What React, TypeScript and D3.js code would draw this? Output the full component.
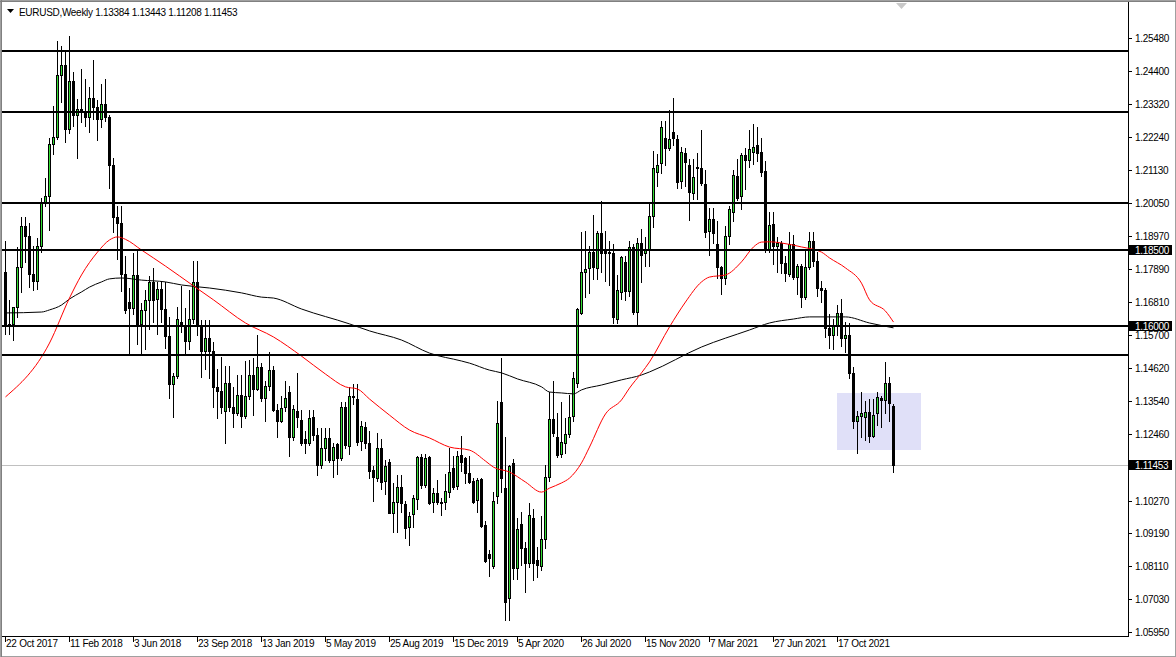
import React from 'react';
import * as d3 from 'd3';

type Candle = [number, number, number, number]; // open, high, low, close

// weekly bars, first one is the week of 22 Oct 2017
const weeks2017: Candle[] = [
  [1.178, 1.188, 1.1574, 1.1605], [1.1605, 1.1688, 1.1574, 1.1608], [1.1608, 1.166, 1.1554, 1.1664],
  [1.1664, 1.1861, 1.163, 1.1795], [1.1795, 1.1961, 1.1713, 1.1931], [1.1931, 1.1961, 1.1811, 1.1896],
  [1.1896, 1.194, 1.173, 1.1772], [1.1772, 1.1863, 1.1718, 1.175], [1.175, 1.189, 1.1723, 1.1865],
  [1.1865, 1.2023, 1.1845, 1.2005],
];
const weeks2018: Candle[] = [
  [1.2005, 1.2089, 1.1995, 1.203], [1.203, 1.2218, 1.1916, 1.22], [1.22, 1.2323, 1.2165, 1.2222],
  [1.2222, 1.2537, 1.2215, 1.2427], [1.2427, 1.2522, 1.2336, 1.2459], [1.2459, 1.2507, 1.2206, 1.225],
  [1.225, 1.2556, 1.2235, 1.2407], [1.2407, 1.2437, 1.226, 1.2295], [1.2295, 1.2346, 1.2154, 1.2315],
  [1.2315, 1.2446, 1.2273, 1.2306], [1.2306, 1.2413, 1.2258, 1.2287], [1.2287, 1.2388, 1.224, 1.2352],
  [1.2352, 1.2476, 1.2282, 1.2322], [1.2322, 1.2345, 1.2214, 1.2282], [1.2282, 1.2396, 1.2254, 1.233],
  [1.233, 1.2414, 1.2276, 1.2287], [1.2287, 1.2296, 1.2055, 1.213], [1.213, 1.2155, 1.191, 1.196],
  [1.196, 1.1996, 1.1822, 1.194], [1.194, 1.1996, 1.1716, 1.1772], [1.1772, 1.183, 1.1645, 1.1655],
  [1.168, 1.1726, 1.151, 1.166], [1.166, 1.184, 1.164, 1.177], [1.177, 1.1852, 1.1541, 1.1608],
  [1.1608, 1.1676, 1.1508, 1.1655], [1.1655, 1.172, 1.1527, 1.1685], [1.1685, 1.1764, 1.159, 1.1745],
  [1.1745, 1.1791, 1.1613, 1.1686], [1.169, 1.1745, 1.1575, 1.1722], [1.1722, 1.175, 1.1614, 1.1656],
  [1.1656, 1.1745, 1.153, 1.1567], [1.1567, 1.163, 1.1365, 1.1411], [1.1411, 1.1445, 1.1301, 1.1436],
  [1.1436, 1.1665, 1.143, 1.1623], [1.1615, 1.1733, 1.158, 1.16], [1.16, 1.166, 1.151, 1.1552],
  [1.1552, 1.172, 1.1525, 1.1624], [1.1624, 1.1815, 1.161, 1.1745], [1.1745, 1.1815, 1.157, 1.1604],
  [1.1604, 1.162, 1.1432, 1.152], [1.152, 1.162, 1.146, 1.156], [1.156, 1.162, 1.143, 1.152],
  [1.152, 1.155, 1.1335, 1.14], [1.14, 1.146, 1.13, 1.1388], [1.1388, 1.15, 1.1315, 1.1335],
  [1.132, 1.147, 1.1216, 1.1415], [1.1415, 1.147, 1.132, 1.1335], [1.1335, 1.14, 1.1268, 1.1315],
  [1.1315, 1.144, 1.131, 1.1375], [1.1375, 1.144, 1.127, 1.1305], [1.1305, 1.1485, 1.13, 1.137],
  [1.137, 1.149, 1.136, 1.144], [1.144, 1.1497, 1.131, 1.1395],
];
const weeks2019: Candle[] = [
  [1.1395, 1.157, 1.139, 1.1466], [1.1466, 1.148, 1.1355, 1.1365], [1.1365, 1.142, 1.129, 1.1404],
  [1.1404, 1.1515, 1.139, 1.1455], [1.1455, 1.147, 1.132, 1.1325], [1.1325, 1.1345, 1.1235, 1.129],
  [1.129, 1.137, 1.1285, 1.1331], [1.1335, 1.142, 1.132, 1.1364], [1.1384, 1.1405, 1.1175, 1.1235],
  [1.1235, 1.134, 1.1225, 1.1328], [1.1322, 1.1448, 1.127, 1.1302], [1.1292, 1.1325, 1.121, 1.1217],
  [1.123, 1.1255, 1.1185, 1.1217], [1.1217, 1.1325, 1.121, 1.1299], [1.1302, 1.1325, 1.1225, 1.1243],
  [1.1243, 1.1265, 1.111, 1.1144], [1.1144, 1.1265, 1.1135, 1.12], [1.12, 1.1265, 1.116, 1.1233],
  [1.1233, 1.1265, 1.1155, 1.116], [1.116, 1.1215, 1.1105, 1.1203], [1.1213, 1.1215, 1.1115, 1.1167],
  [1.1167, 1.135, 1.116, 1.1335], [1.1335, 1.135, 1.12, 1.121], [1.1206, 1.14, 1.118, 1.1371],
  [1.1371, 1.141, 1.1345, 1.1368], [1.1361, 1.141, 1.121, 1.122], [1.1223, 1.129, 1.1195, 1.1272],
  [1.1269, 1.1285, 1.12, 1.1217], [1.1217, 1.1255, 1.11, 1.1125], [1.1128, 1.114, 1.1025, 1.1105],
  [1.1102, 1.125, 1.109, 1.12], [1.12, 1.123, 1.1065, 1.1088], [1.1092, 1.116, 1.105, 1.1141],
  [1.1154, 1.1165, 1.0985, 1.0986], [1.0986, 1.1085, 1.0925, 1.1022], [1.1022, 1.111, 1.0925, 1.1072],
  [1.1072, 1.111, 1.099, 1.1019], [1.1016, 1.1025, 1.0905, 1.0937], [1.094, 1.099, 1.088, 1.0976],
  [1.0983, 1.1045, 1.094, 1.1035], [1.1032, 1.1175, 1.1, 1.117], [1.117, 1.118, 1.107, 1.1078],
  [1.1078, 1.118, 1.1072, 1.1167], [1.117, 1.1175, 1.1015, 1.1019], [1.1022, 1.107, 1.099, 1.1052],
  [1.1052, 1.1095, 1.1015, 1.1022], [1.1022, 1.1035, 1.098, 1.1019], [1.1022, 1.1115, 1.1, 1.1059],
  [1.1055, 1.12, 1.104, 1.1121], [1.1134, 1.1175, 1.1065, 1.1072], [1.1075, 1.119, 1.1065, 1.1174],
  [1.1177, 1.124, 1.1125, 1.1154],
];
const weeks2020: Candle[] = [
  [1.1167, 1.117, 1.1085, 1.1118], [1.1118, 1.1175, 1.1085, 1.1089], [1.1092, 1.11, 1.102, 1.1022],
  [1.1029, 1.11, 1.099, 1.1095], [1.1098, 1.11, 1.094, 1.0943], [1.0947, 1.096, 1.0825, 1.0828],
  [1.0851, 1.0865, 1.078, 1.0838], [1.0812, 1.1055, 1.0805, 1.1026], [1.1042, 1.1355, 1.102, 1.1282],
  [1.135, 1.1495, 1.1055, 1.1101], [1.1068, 1.1235, 1.0635, 1.0694], [1.0707, 1.1145, 1.0635, 1.1141],
  [1.1151, 1.1165, 1.077, 1.0805], [1.0805, 1.097, 1.077, 1.0934], [1.095, 1.099, 1.0815, 1.0871],
  [1.0871, 1.089, 1.0725, 1.0822], [1.0822, 1.102, 1.081, 1.098], [1.097, 1.1, 1.0765, 1.0822],
  [1.0832, 1.0875, 1.0775, 1.0815], [1.0812, 1.0975, 1.08, 1.0901], [1.0901, 1.1145, 1.087, 1.1105],
  [1.1105, 1.1385, 1.109, 1.1295], [1.1295, 1.142, 1.124, 1.1249], [1.1236, 1.1315, 1.117, 1.1177],
  [1.118, 1.135, 1.117, 1.122], [1.1216, 1.13, 1.1185, 1.1246], [1.1246, 1.1375, 1.1235, 1.1302],
  [1.1305, 1.145, 1.129, 1.143], [1.1414, 1.166, 1.14, 1.1657], [1.1644, 1.191, 1.164, 1.1779],
  [1.1779, 1.1915, 1.1695, 1.1788], [1.1791, 1.1865, 1.171, 1.1844], [1.1844, 1.1965, 1.1755, 1.1795],
  [1.1791, 1.1915, 1.1755, 1.1907], [1.1907, 1.2012, 1.178, 1.1841], [1.1848, 1.1915, 1.175, 1.1841],
  [1.1845, 1.188, 1.1735, 1.184], [1.1841, 1.187, 1.161, 1.1631], [1.1624, 1.177, 1.161, 1.172],
  [1.1713, 1.183, 1.169, 1.1828], [1.1812, 1.183, 1.1685, 1.1716], [1.1716, 1.188, 1.17, 1.1861],
  [1.1861, 1.187, 1.164, 1.1647], [1.1647, 1.189, 1.16, 1.1874], [1.1874, 1.192, 1.1745, 1.1835],
  [1.184, 1.1895, 1.18, 1.1854], [1.1854, 1.2005, 1.18, 1.1963], [1.1963, 1.2175, 1.1925, 1.2121],
  [1.2108, 1.2165, 1.206, 1.2131], [1.2137, 1.2275, 1.2105, 1.2255], [1.2219, 1.2275, 1.213, 1.2186],
  [1.2186, 1.231, 1.218, 1.2216],
];
const weeks2021: Candle[] = [
  [1.2239, 1.235, 1.2195, 1.2219], [1.2216, 1.223, 1.2055, 1.2075], [1.2078, 1.219, 1.2055, 1.2173],
  [1.217, 1.2185, 1.206, 1.214], [1.213, 1.215, 1.195, 1.2042], [1.2038, 1.215, 1.202, 1.2091],
  [1.2124, 1.217, 1.202, 1.2121], [1.2121, 1.2245, 1.2065, 1.2071], [1.2068, 1.2115, 1.1895, 1.191],
  [1.1913, 1.199, 1.1835, 1.1953], [1.1953, 1.199, 1.1875, 1.1907], [1.1871, 1.1945, 1.176, 1.1795],
  [1.1795, 1.18, 1.1705, 1.1759], [1.1759, 1.193, 1.174, 1.1897], [1.1897, 1.1995, 1.187, 1.1986],
  [1.1976, 1.2115, 1.1945, 1.2098], [1.2094, 1.215, 1.2015, 1.2022], [1.2028, 1.217, 1.1985, 1.2163],
  [1.2163, 1.2185, 1.205, 1.2147], [1.2147, 1.2245, 1.2125, 1.2183], [1.2173, 1.2265, 1.2135, 1.219],
  [1.2196, 1.2255, 1.2145, 1.217], [1.2173, 1.222, 1.2095, 1.2107], [1.2111, 1.2145, 1.1845, 1.1851],
  [1.1851, 1.1975, 1.1845, 1.1933], [1.1935, 1.1975, 1.1805, 1.1865], [1.1865, 1.1895, 1.178, 1.1875],
  [1.1874, 1.188, 1.1775, 1.1808], [1.1808, 1.183, 1.175, 1.1775], [1.1772, 1.191, 1.1765, 1.1871],
  [1.1871, 1.19, 1.1755, 1.1762], [1.1762, 1.1805, 1.1705, 1.1798], [1.1798, 1.1805, 1.1665, 1.1697],
  [1.1697, 1.185, 1.169, 1.1795], [1.1795, 1.191, 1.179, 1.188], [1.188, 1.191, 1.18, 1.1815],
  [1.1815, 1.1845, 1.17, 1.1725], [1.1725, 1.175, 1.168, 1.172], [1.172, 1.1725, 1.1565, 1.1595],
  [1.1595, 1.164, 1.153, 1.157], [1.157, 1.1625, 1.1525, 1.16], [1.16, 1.167, 1.157, 1.1645],
  [1.1645, 1.169, 1.1535, 1.156], [1.156, 1.1615, 1.1515, 1.157], [1.157, 1.161, 1.143, 1.1445],
  [1.1445, 1.1465, 1.1265, 1.129], [1.129, 1.132, 1.1185, 1.1305], [1.1305, 1.1385, 1.1235, 1.1315],
  [1.1302, 1.1355, 1.1225, 1.1318], [1.1318, 1.136, 1.122, 1.124], [1.124, 1.136, 1.1235, 1.1308],
  [1.1315, 1.1385, 1.1275, 1.1368],
];
const weeks2022: Candle[] = [
  [1.1364, 1.137, 1.127, 1.1358], [1.1358, 1.1483, 1.1315, 1.1414], [1.1414, 1.1435, 1.129, 1.1348],
  [1.13384, 1.13443, 1.11208, 1.11453],
];

const candles: Candle[] = [...weeks2017, ...weeks2018, ...weeks2019, ...weeks2020, ...weeks2021, ...weeks2022];

// bottom axis
const dateTickBars = [0, 16, 32, 48, 64, 80, 96, 112, 128, 144, 160, 176, 192, 208];
const dateTickLabels = [
  '22 Oct 2017', '11 Feb 2018', '3 Jun 2018', '23 Sep 2018', '13 Jan 2019', '5 May 2019', '25 Aug 2019',
  '15 Dec 2019', '5 Apr 2020', '26 Jul 2020', '15 Nov 2020', '7 Mar 2021', '27 Jun 2021', '17 Oct 2021',
];

// right axis (1.11380 sits under the last price box, only its tick shows)
const priceTicks = [
  1.2548, 1.244, 1.2332, 1.2224, 1.2113, 1.2005, 1.1897, 1.1789, 1.1681, 1.157, 1.1462, 1.1354, 1.1246,
  1.1138, 1.1027, 1.0919, 1.0811, 1.0703, 1.0595,
];
const hiddenTick = 1.1138;

// drawn objects
const levelLines = [1.2505, 1.2305, 1.2005, 1.185, 1.16, 1.1505];
const labelledLevels = [1.185, 1.16];
const lastClose = 1.11453;
const zoneBars = [208, 229];
const zonePrices = [1.1381, 1.1193];

// moving averages: [bar, price]
const redMA: [number, number][] = [
  [0, 1.1368], [11, 1.1545], [16, 1.1693], [19, 1.1769], [23, 1.1844], [26, 1.1884], [28, 1.1894],
  [30, 1.1886], [34, 1.1851], [40, 1.1798], [47, 1.1733], [52, 1.1687], [60, 1.1611], [67, 1.1565],
  [74, 1.1502], [80, 1.1443], [85, 1.1401], [88, 1.1394], [91, 1.1361], [96, 1.1308], [101, 1.1259],
  [106, 1.1233], [111, 1.1203], [116, 1.1193], [120, 1.1157], [122, 1.1137], [126, 1.1121],
  [130, 1.1088], [134, 1.1055], [136, 1.1068], [139, 1.1085], [141, 1.1101], [144, 1.1151],
  [146, 1.1203], [150, 1.1312], [154, 1.1358], [156, 1.1397], [159, 1.1447], [161, 1.1483],
  [166, 1.1598], [170, 1.168], [174, 1.1746], [176, 1.1762], [180, 1.1769], [184, 1.1812],
  [187, 1.1861], [189, 1.1877], [191, 1.1878], [194, 1.1874], [199, 1.1861], [204, 1.1844],
  [206, 1.1825], [210, 1.1792], [214, 1.1742], [216, 1.1687], [220, 1.165], [222, 1.1614],
];
const blackMA: [number, number][] = [
  [0, 1.1644], [9, 1.1647], [11, 1.1654], [14, 1.167], [16, 1.169], [19, 1.1713], [21, 1.1729],
  [24, 1.1746], [26, 1.1756], [29, 1.1759], [34, 1.1752], [40, 1.1746], [44, 1.1736], [51, 1.1726],
  [59, 1.171], [64, 1.1696], [67, 1.1693], [74, 1.1657], [86, 1.1608], [91, 1.1585], [99, 1.1555],
  [106, 1.1512], [114, 1.1486], [116, 1.1479], [121, 1.1456], [124, 1.1447], [128, 1.1427],
  [134, 1.1401], [136, 1.1384], [139, 1.1381], [142, 1.1378], [144, 1.1391], [149, 1.1407],
  [154, 1.1424], [159, 1.144], [161, 1.145], [174, 1.1532], [186, 1.1588], [191, 1.1611],
  [197, 1.1624], [201, 1.1631], [210, 1.1631], [216, 1.1611], [222, 1.1595],
];

const W = 1176;
const H = 657;
const plotRight = 1128;
const plotBottom = 636;
const axisFont = "'Liberation Sans', Arial, sans-serif";
const bullFill = '#33dd33';

const x = d3.scaleLinear().domain([0, 222]).range([5, 893]);
const y = d3.scaleLinear().domain([1.0595, 1.2548]).range([632, 38]);
const py = (p: number) => Math.round(y(p));

const App = () => {
  const maLine = d3
    .line<[number, number]>()
    .x((d) => x(d[0]) + 0.5)
    .y((d) => y(d[1]))
    .curve(d3.curveMonotoneX);

  return (
    <svg
      width={W}
      height={H}
      style={{ position: 'absolute', left: 0, top: 0, display: 'block', background: '#fff' }}
      shapeRendering="crispEdges"
    >
      {/* window frame */}
      <rect x={0.5} y={0.5} width={W - 1} height={H - 1} fill="#fff" stroke="#a0a0a0" />
      <line x1={1.5} x2={1.5} y1={0} y2={H} stroke="#808080" />
      <line x1={0} x2={W} y1={1.5} y2={1.5} stroke="#808080" />

      {/* zone */}
      <rect
        x={x(zoneBars[0])}
        y={py(zonePrices[0])}
        width={x(zoneBars[1]) - x(zoneBars[0])}
        height={py(zonePrices[1]) - py(zonePrices[0])}
        fill="#e0e0f8"
      />

      {/* last price line */}
      <line x1={2} x2={plotRight} y1={py(lastClose) + 0.5} y2={py(lastClose) + 0.5} stroke="#c0c0c0" />

      {/* candles */}
      {candles.map(([o, h, l, c], i) => {
        const cx = x(i);
        const top = py(Math.max(o, c));
        const bot = py(Math.min(o, c));
        const bull = c >= o;
        return (
          <g key={i}>
            <line x1={cx + 0.5} x2={cx + 0.5} y1={py(h)} y2={py(l) + 1} stroke="#000" />
            {bot - top < 1 ? (
              <line x1={cx - 1} x2={cx + 2} y1={top + 0.5} y2={top + 0.5} stroke="#000" />
            ) : (
              <rect
                x={cx - 0.5}
                y={top + 0.5}
                width={2}
                height={bot - top}
                fill={bull ? bullFill : '#000'}
                stroke="#000"
              />
            )}
          </g>
        );
      })}

      {/* moving averages */}
      <path d={maLine(blackMA) || ''} fill="none" stroke="#000" strokeWidth={1} shapeRendering="auto" />
      <path d={maLine(redMA) || ''} fill="none" stroke="#ff0000" strokeWidth={1} shapeRendering="auto" />

      {/* horizontal levels */}
      {levelLines.map((p) => (
        <line key={p} x1={2} x2={plotRight} y1={y(p)} y2={y(p)} stroke="#000" strokeWidth={2} />
      ))}

      {/* chart shift marker */}
      <path d="M896,3 L907,3 L901.5,9 Z" fill="#c8c8c8" shapeRendering="auto" />

      {/* plot frame */}
      <line x1={plotRight + 0.5} x2={plotRight + 0.5} y1={2} y2={plotBottom + 1} stroke="#000" />
      <line x1={2} x2={plotRight + 1} y1={plotBottom + 0.5} y2={plotBottom + 0.5} stroke="#000" />

      {/* price axis */}
      {priceTicks.map((p) => (
        <g key={p}>
          <line x1={plotRight} x2={plotRight + 4} y1={py(p) + 0.5} y2={py(p) + 0.5} stroke="#000" />
          {p !== hiddenTick && (
            <text
              x={plotRight + 7}
              y={py(p) + 4}
              fontFamily={axisFont}
              fontSize={10}
              letterSpacing={-0.3}
              fill="#000"
            >
              {p.toFixed(5)}
            </text>
          )}
        </g>
      ))}
      {[...labelledLevels, lastClose].map((p) => (
        <g key={'b' + p}>
          <rect x={plotRight + 1} y={Math.round(y(p)) - 5} width={43} height={10} fill="#000" />
          <text
            x={plotRight + 7}
            y={Math.round(y(p)) + 4}
            fontFamily={axisFont}
            fontSize={10}
            letterSpacing={-0.3}
            fill="#fff"
          >
            {p.toFixed(5)}
          </text>
        </g>
      ))}

      {/* time axis */}
      {dateTickBars.map((b, k) => (
        <g key={b}>
          <line x1={x(b) + 0.5} x2={x(b) + 0.5} y1={plotBottom} y2={plotBottom + 6} stroke="#000" />
          <text
            x={x(b) + 1}
            y={647}
            fontFamily={axisFont}
            fontSize={10}
            letterSpacing={-0.25}
            fill="#000"
          >
            {dateTickLabels[k]}
          </text>
        </g>
      ))}

      {/* title */}
      <path d="M7,9 L14,9 L10.5,13 Z" fill="#000" shapeRendering="auto" />
      <text x={19} y={16} fontFamily={axisFont} fontSize={10} letterSpacing={-0.3} fill="#000">
        {'EURUSD,Weekly  1.13384 1.13443 1.11208 1.11453'}
      </text>
    </svg>
  );
};

export default App;
